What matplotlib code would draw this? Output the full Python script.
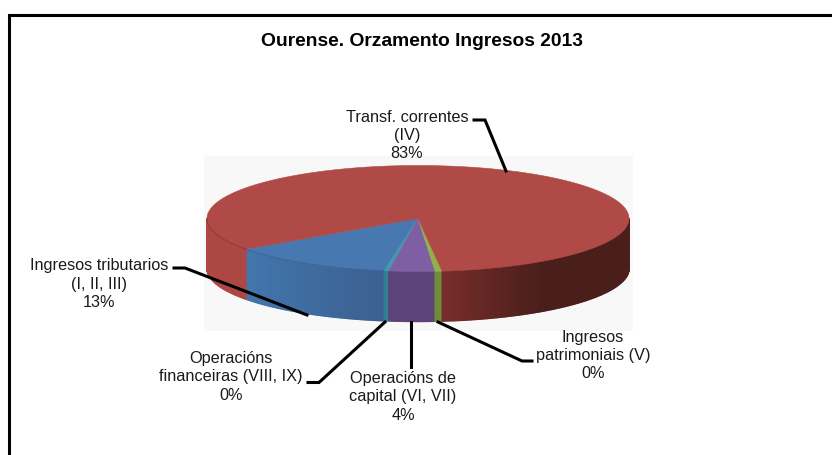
import numpy as np
import matplotlib
matplotlib.use("Agg")
import matplotlib.pyplot as plt
from matplotlib.patches import Polygon, Rectangle
from matplotlib.colors import to_rgb

# Ourense budget income 2013, 3D pie drawn by hand (matplotlib has none)
categories = ["Ingresos tributarios\n(I, II, III)\n13%",
              "Operacións\nfinanceiras (VIII, IX)\n0%",
              "Operacións de\ncapital (VI, VII)\n4%",
              "Ingresos\npatrimoniais (V)\n0%",
              "Transf. correntes\n(IV)\n83%"]
shares = [12.6, 0.36, 3.5, 0.53, 83.01]
top_colors = ["#4878b0", "#3c9bb0", "#7f5fa3", "#8fb04a", "#b04a47"]
side_dark = ["#3c5f90", "#2f8090", "#5c4378", "#6f8c38", "#4a1f1b"]

# ellipse in pixel coordinates
cx, cy = 418, 218.5
rx, ry = 211, 53
depth = 50
start = -54.6  # degrees from straight down, going right


def rim(phi):
    p = np.radians(phi)
    return cx + rx * np.sin(p), cy + ry * np.cos(p)


def side_color(i, x):
    # the side gets darker from left to right, the red slice most of all
    dark = np.array(to_rgb(side_dark[i]))
    if i == 4:
        if x < 246:
            return to_rgb("#ad4743")
        g = min(1.0, (x - 441) / 100)
        return tuple(np.array(to_rgb("#7a2d2a")) * (1 - g) + dark * g)
    if i == 0:
        g = (x - 246) / (383 - 246)
        return tuple(np.array(to_rgb("#4277ad")) * (1 - g) + dark * g)
    return tuple(dark)


fig = plt.figure(figsize=(8.32, 4.55), dpi=100)
ax = fig.add_axes([0, 0, 1, 1])
ax.set_xlim(0, 832)
ax.set_ylim(455, 0)
ax.axis("off")
plt.rcParams["font.family"] = ["Liberation Sans", "DejaVu Sans"]

# chart frame, only top and left fall inside the picture
ax.plot([8.5, 8.5, 832], [455, 14.5, 14.5], color="black", lw=2.2,
        solid_capstyle="butt", solid_joinstyle="miter")

# plot area
ax.add_patch(Rectangle((204, 156), 429, 175, color="#f8f8f8", lw=0, zorder=1))

edges = start + np.cumsum([0] + shares) * 3.6

# side wall, in thin strips, only the front half of the ellipse shows
for i in range(len(shares)):
    a0, a1 = edges[i], edges[i + 1]
    for seg in [(a0, a1), (a0 - 360, a1 - 360)]:
        lo, hi = max(seg[0], -90), min(seg[1], 90)
        if hi <= lo:
            continue
        steps = max(2, int((hi - lo) * 2))
        phis = np.linspace(lo, hi, steps + 1)
        for p0, p1 in zip(phis[:-1], phis[1:]):
            x0, y0 = rim(p0)
            x1, y1 = rim(p1)
            col = side_color(i, (x0 + x1) / 2)
            ax.add_patch(Polygon([(x0, y0), (x1, y1), (x1, y1 + depth), (x0, y0 + depth)],
                                 closed=True, facecolor=col, edgecolor=col, lw=1.0, zorder=2))

# top face
for i in range(len(shares)):
    phis = np.linspace(edges[i], edges[i + 1], max(3, int(shares[i] * 12)))
    xs, ys = rim(phis)
    pts = [(cx, cy)] + list(zip(xs, ys))
    ax.add_patch(Polygon(pts, closed=True, facecolor=top_colors[i],
                         edgecolor=top_colors[i], lw=0.4, zorder=3))

# thin darker line where the top meets the left wall
xs, ys = rim(np.linspace(-90, start, 40))
ax.plot(xs, ys, color="#8f3a37", lw=0.7, zorder=3.5)
xs, ys = rim(np.linspace(start, edges[1], 40))
ax.plot(xs, ys, color="#3d669a", lw=0.7, zorder=3.5)

# leader lines
leaders = [
    ([174, 185, 307], [268, 268, 315]),
    ([308, 319, 385], [382.5, 382.5, 322]),
    ([411, 411], [322, 367]),
    ([438, 522, 532], [322, 361, 361]),
    ([474, 485, 506], [120, 120, 171]),
]
for xs, ys in leaders:
    ax.plot(xs, ys, color="black", lw=2.2, solid_joinstyle="miter", zorder=4)

label_pos = [(99, 284), (231, 377), (403, 397), (593, 355.5), (407, 135.5)]
for text, (x, y) in zip(categories, label_pos):
    ax.text(x, y, text, ha="center", va="center", fontsize=11.7,
            color="#1a1a1a", linespacing=1.27, zorder=5)

ax.text(422, 42, "Ourense. Orzamento Ingresos 2013", ha="center", va="center",
        fontsize=13.9, fontweight="bold", color="black")

fig.savefig("out.png", dpi=100)
